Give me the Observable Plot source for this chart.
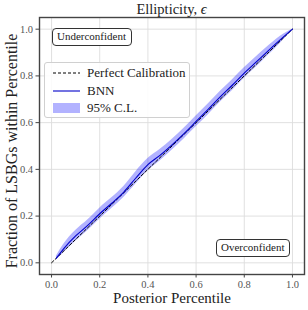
<!DOCTYPE html>
<html><head><meta charset="utf-8">
<script src="https://cdn.jsdelivr.net/npm/d3@7"></script>
<script src="https://cdn.jsdelivr.net/npm/@observablehq/plot@0.6"></script>
<style>
body{margin:0;background:#fff;}
#wrap{position:relative;width:308px;height:310px;font-family:"Liberation Serif","DejaVu Serif",serif;color:#222;}
#title{position:absolute;left:39px;width:265px;top:0;height:17px;line-height:19px;text-align:center;font-size:14.5px;}
#chart{position:absolute;left:0;top:14px;}
.note{position:absolute;border:1px solid #333;border-radius:4px;background:#fff;font-size:11px;line-height:15px;padding:0 4px;box-sizing:border-box;height:18px;}
#legend{position:absolute;left:44px;top:62px;width:146px;height:56px;border:1px solid #d0d0d0;border-radius:3px;background:rgba(255,255,255,0.85);box-sizing:border-box;font-size:13px;}
#legend .row{position:absolute;left:4px;height:18px;line-height:18px;}
#legend svg{position:absolute;left:0;top:0;}
#legend span{position:absolute;left:38px;white-space:nowrap;}
</style></head>
<body>
<div id="wrap">
  <div id="title">Ellipticity, <i>ϵ</i></div>
  <div id="chart"></div>
  <div class="note" style="left:52px;top:28px;width:80px;">Underconfident</div>
  <div class="note" style="left:216px;top:239px;width:74px;">Overconfident</div>
  <div id="legend"></div>
</div>
<script>
// Reliability curve
const percentile = [0.02,0.05,0.10,0.15,0.20,0.25,0.30,0.35,0.40,0.45,0.50,0.55,0.60,0.65,0.70,0.75,0.80,0.85,0.90,0.95,1.00];
const bnnFraction = [0.02,0.06,0.115,0.16,0.21,0.255,0.303,0.363,0.42,0.46,0.505,0.553,0.605,0.657,0.71,0.76,0.812,0.86,0.908,0.955,1.00];
const clLower =     [0.012,0.042,0.092,0.137,0.186,0.232,0.28,0.337,0.394,0.436,0.482,0.53,0.582,0.633,0.687,0.737,0.79,0.838,0.888,0.94,1.00];
const clUpper =     [0.028,0.078,0.138,0.183,0.234,0.278,0.327,0.39,0.446,0.485,0.528,0.576,0.628,0.68,0.733,0.783,0.835,0.882,0.928,0.97,1.00];
const perfectX = [0, 1];
const perfectY = [0, 1];
const tickValues = [0, 0.2, 0.4, 0.6, 0.8, 1.0];
const legendLabels = ["Perfect Calibration", "BNN", "95% C.L."];

const curve = percentile.map((p, i) => ({p, y: bnnFraction[i], lo: clLower[i], hi: clUpper[i]}));
const perfect = perfectX.map((x, i) => ({x, y: perfectY[i]}));

const font = '"Liberation Serif","DejaVu Serif",serif';
const chart = Plot.plot({
  width: 308, height: 296,
  marginLeft: 39, marginRight: 4, marginTop: 3, marginBottom: 36,
  style: {fontFamily: font, fontSize: "10.5px", color: "#555", background: "transparent"},
  x: {domain: [-0.05, 1.05], ticks: tickValues, tickFormat: d3.format(".1f"), label: null},
  y: {domain: [-0.05, 1.05], ticks: tickValues, tickFormat: d3.format(".1f"), label: null},
  marks: [
    Plot.gridX(tickValues, {stroke: "#dcdcdc", strokeOpacity: 1, strokeWidth: 0.9}),
    Plot.gridY(tickValues, {stroke: "#dcdcdc", strokeOpacity: 1, strokeWidth: 0.9}),
    Plot.areaY(curve, {x: "p", y1: "lo", y2: "hi", curve: "monotone-x", fill: "blue", fillOpacity: 0.3}),
    Plot.line(perfect, {x: "x", y: "y", stroke: "black", strokeWidth: 1, strokeDasharray: "3,2"}),
    Plot.line(curve, {x: "p", y: "y", curve: "monotone-x", stroke: "#0000c8", strokeWidth: 1.1}),
    Plot.frame({stroke: "#444", strokeWidth: 1.4}),
    Plot.axisX({ticks: tickValues, tickFormat: d3.format(".1f"), tickSize: 3.5, tickPadding: 3, stroke: "#444", label: null}),
    Plot.axisY({ticks: tickValues, tickFormat: d3.format(".1f"), tickSize: 3.5, tickPadding: 3, stroke: "#444", label: null}),
    Plot.text(["Posterior Percentile"], {frameAnchor: "bottom", dy: 24, fontSize: 15, fill: "#222", lineAnchor: "middle"}),
    Plot.text(["Fraction of LSBGs within Percentile"], {frameAnchor: "left", dx: -28, dy: 5, rotate: -90, textAnchor: "middle", fontSize: 16, fill: "#222", lineAnchor: "middle"})
  ]
});
document.getElementById("chart").appendChild(chart);

// Legend
const lg = document.getElementById("legend");
const swatches = [
  '<line x1="4" y1="9" x2="31" y2="9" stroke="black" stroke-width="1" stroke-dasharray="3,2"/>',
  '<line x1="4" y1="9" x2="31" y2="9" stroke="#0000c8" stroke-width="1.1"/>',
  '<rect x="4" y="4" width="27" height="10" fill="blue" fill-opacity="0.3"/>'
];
legendLabels.forEach((lab, i) => {
  const row = document.createElement("div");
  row.className = "row";
  row.style.top = (1 + i * 17.5) + "px";
  row.style.width = "140px";
  row.innerHTML = `<svg width="36" height="18">${swatches[i]}</svg><span>${lab}</span>`;
  lg.appendChild(row);
});
</script>
</body></html>
